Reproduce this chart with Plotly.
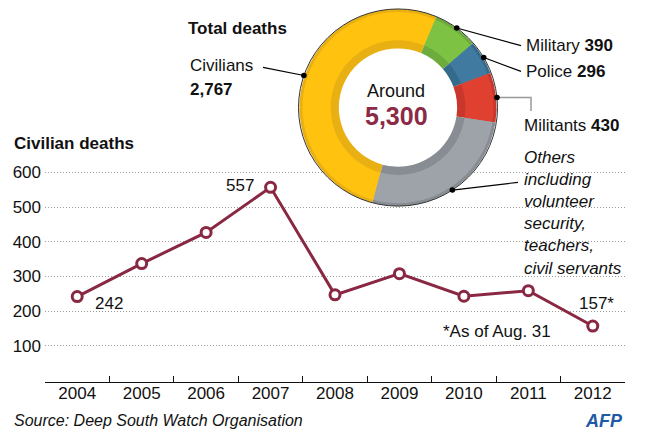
import math
import plotly.graph_objects as go

# ---------------- data ----------------
years = ['2004', '2005', '2006', '2007', '2008', '2009', '2010', '2011', '2012']
civilian_deaths = [242, 337, 427, 557, 247, 308, 243, 259, 157]
y_ticks = [100, 200, 300, 400, 500, 600]
labelled_points = {0: '', 3: '', 8: '*'}   # index -> suffix for value labels

groups = ['Civilians', 'Military', 'Police', 'Militants', 'Others']
group_deaths = [2767, 390, 296, 430, 1417]
total_label = '5,300'
group_colors = ['#FFC20E', '#7DC243', '#407AA0', '#E04030', '#9DA3A9']
group_shades = ['#E8B012', '#6CAB3C', '#346A8C', '#C8362C', '#878D93']

# ---------------- helpers ----------------
W, H = 649, 432
def px(x):
    return x / W
def py(y):
    return 1 - y / H

FONT = 'Liberation Sans, Arial, sans-serif'
INK = '#111111'
MAROON = '#892842'
FS = 17

fig = go.Figure()

# ---------------- line chart ----------------
fig.add_trace(go.Scatter(
    x=years, y=civilian_deaths, mode='lines+markers',
    line=dict(color=MAROON, width=3),
    marker=dict(size=10, color='white', line=dict(color=MAROON, width=3)),
    hoverinfo='skip', showlegend=False, cliponaxis=False))

# ---------------- donut ----------------
CX, CY, R = 398, 104.5, 99.5
R_IN = 96.5
HOLE_R = 59.7
SHADE_R = 68
START = 195  # degrees clockwise from 12 o'clock


def pie_domain(r):
    return dict(x=[px(CX - r), px(CX + r)], y=[py(CY + r), py(CY - r)])


rot = START - 360
fig.add_trace(go.Pie(
    labels=groups, values=group_deaths, sort=False, direction='clockwise',
    rotation=rot, hole=HOLE_R / R, domain=pie_domain(R),
    marker=dict(colors=group_shades, line=dict(width=0)),
    textinfo='none', hoverinfo='skip', showlegend=False))
fig.add_trace(go.Pie(
    labels=groups, values=group_deaths, sort=False, direction='clockwise',
    rotation=rot, hole=SHADE_R / R_IN, domain=pie_domain(R_IN),
    marker=dict(colors=group_colors, line=dict(width=0)),
    textinfo='none', hoverinfo='skip', showlegend=False))

shapes = [dict(type='circle', xref='paper', yref='paper', layer='above',
               x0=px(CX - R), x1=px(CX + R), y0=py(CY + R), y1=py(CY - R),
               line=dict(color='#333333', width=1), fillcolor='rgba(0,0,0,0)')]

# dots at slice mid-angles, computed from the data
total = sum(group_deaths)
cum = 0
dots = []
for v in group_deaths:
    a = math.radians(START + 360 * (cum + v / 2) / total)
    cum += v
    dots.append((CX + R * math.sin(a), CY - R * math.cos(a)))

label_pos = {  # where each connector ends (label side)
    'Civilians': (263, 64),
    'Military': (521, 42),
    'Police': (521, 68),
    'Others': (518, 180),
}
for g, (dx, dy) in zip(groups, dots):
    if g == 'Militants':
        shapes.append(dict(type='path', xref='paper', yref='paper', layer='above',
                           path=f'M {px(dx)} {py(dy)} L {px(531)} {py(dy)} L {px(531)} {py(108)}',
                           line=dict(color='#999999', width=1.5)))
    else:
        lx, ly = label_pos[g]
        shapes.append(dict(type='line', xref='paper', yref='paper', layer='above',
                           x0=px(dx), y0=py(dy), x1=px(lx), y1=py(ly),
                           line=dict(color='#000000', width=1.2)))
for dx, dy in dots:
    r = 2.8
    shapes.append(dict(type='circle', xref='paper', yref='paper', layer='above',
                       x0=px(dx - r), x1=px(dx + r), y0=py(dy + r), y1=py(dy - r),
                       line=dict(color='#000000', width=0), fillcolor='#000000'))

# ---------------- annotations ----------------
def note(text, x, y, size=FS, xanchor='left', color=INK, **kw):
    return dict(text=text, x=px(x), y=py(y), xref='paper', yref='paper',
                xanchor=xanchor, yanchor='middle', showarrow=False,
                font=dict(size=size, color=color, family=FONT), align='left', **kw)

ann = [
    note('<b>Total deaths</b>', 186, 25),
    note(groups[0], 188, 62),
    note(f'<b>{group_deaths[0]:,}</b>', 188, 86),
    note(f'{groups[1]} <b>{group_deaths[1]}</b>', 524, 42),
    note(f'{groups[2]} <b>{group_deaths[2]}</b>', 524, 68),
    note(f'{groups[3]} <b>{group_deaths[3]}</b>', 522, 123),
    note('<i>Others<br>including<br>volunteer<br>security,<br>teachers,<br>civil servants</i>', 522, 211),
    note('Around', 396, 88, size=18, xanchor='center'),
    note(f'<b>{total_label}</b>', 396, 113, size=25, xanchor='center', color='#8C2A46'),
    note('<b>Civilian deaths</b>', 12, 141),
    note('*As of Aug. 31', 441, 331),
    note('<i>Source: Deep South Watch Organisation</i>', 12, 420, size=16),
    note('<b><i>AFP</i></b>', 604, 421, size=18, xanchor='center', color='#1D5AA6'),
]

shift = {0: (16, -7, 'left'), 3: (-15, 2, 'right'), 8: (-16, 23, 'left')}
for i, suf in labelled_points.items():
    xs, ys, xa = shift[i]
    ann.append(dict(text=f'{civilian_deaths[i]}{suf}', x=i, y=civilian_deaths[i],
                    xref='x', yref='y', xanchor=xa, yanchor='middle',
                    xshift=xs, yshift=ys, showarrow=False,
                    font=dict(size=FS, color=INK, family=FONT)))

# ---------------- layout ----------------
fig.update_layout(
    width=W, height=H, autosize=False,
    margin=dict(l=0, r=0, t=0, b=0, pad=0),
    paper_bgcolor='white', plot_bgcolor='white',
    font=dict(family=FONT, size=FS, color=INK),
    showlegend=False,
    shapes=shapes, annotations=ann,
    xaxis=dict(type='category', domain=[px(45), px(625)], range=[-0.5, 8.5],
               showline=True, linecolor=INK, linewidth=1,
               ticks='inside', ticklen=6, tickcolor=INK, tickwidth=1,
               tickson='boundaries', showgrid=False, zeroline=False,
               tickfont=dict(size=FS, color=INK), fixedrange=True,
               ticklabelstandoff=-4),
    yaxis=dict(range=[-4, 614], domain=[py(381.4), py(165.1)],
               tickvals=y_ticks, showgrid=True, gridcolor='#9a9a9a',
               griddash='1px,2px', gridwidth=1, zeroline=False, showline=False,
               ticks='', ticklabelstandoff=3, tickfont=dict(size=FS, color=INK),
               fixedrange=True),
)

fig.write_html('out.html', config={'displayModeBar': False},
               post_script="document.body.style.margin='0';document.body.style.overflow='hidden';")
